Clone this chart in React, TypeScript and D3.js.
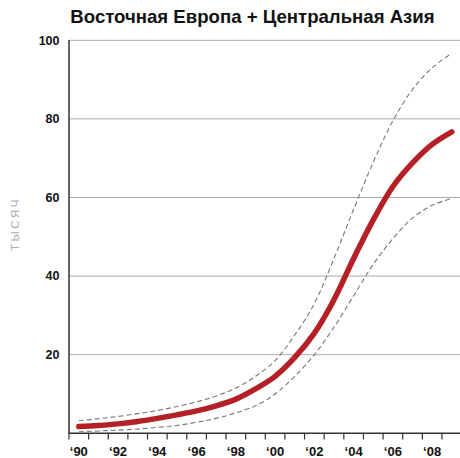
import React from "react";
import * as d3 from "d3";

const years = [1990,1991,1992,1993,1994,1995,1996,1997,1998,1999,2000,2001,2002,2003,2004,2005,2006,2007,2008,2009];
const central = [1.7,2.0,2.4,3.0,3.8,4.7,5.7,7.0,8.7,11.3,14.5,19.3,25.5,34,44.5,54.3,62.8,68.8,73.5,76.7];
const upper = [3.2,3.7,4.3,5.0,5.8,6.8,8.0,9.5,11.5,14.5,18.5,25,33,44.5,57,69,79.5,87.5,93,96.7];
const lower = [0.4,0.6,0.8,1.1,1.5,2.0,2.8,3.8,5.2,7.0,10,14.5,20,27,35,43,49.5,54.8,58,59.8];
const yTicks = [20, 40, 60, 80, 100];
const xLabelYears = [1990,1992,1994,1996,1998,2000,2002,2004,2006,2008];
const tickYears = d3.range(1990, 2010);

const title = "Восточная Европа + Центральная Азия";
const yLabel = "ТЫСЯЧ";

export default function App() {
  const W = 460, H = 458;
  const x = d3.scaleLinear().domain([1990, 2010]).range([69, 461.6]);
  const y = d3.scaleLinear().domain([0, 100]).range([433.3, 40.3]);
  const line = d3
    .line<number>()
    .x((_, i) => x(years[i] + 0.5))
    .y((d) => y(d))
    .curve(d3.curveCatmullRom.alpha(0.5));
  const font = "'Liberation Sans', Arial, Helvetica, sans-serif";
  return (
    <svg width={W} height={H} style={{ position: "absolute", left: 0, top: 0 }} fontFamily={font}>
      <rect width={W} height={H} fill="#fff" />
      <text x={252.5} y={22.5} textAnchor="middle" fontWeight="bold" fontSize={18.6} fill="#111">
        {title}
      </text>
      {yTicks.map((t) => (
        <g key={t}>
          <line x1={69} x2={460} y1={y(t)} y2={y(t)} stroke="#aaa" strokeWidth={1} />
          <text x={59.5} y={y(t)} dy="0.35em" textAnchor="end" fontWeight="bold" fontSize={12.5} fill="#111">
            {t}
          </text>
        </g>
      ))}
      <text
        transform={`translate(18.5,${224}) rotate(-90)`}
        textAnchor="middle"
        fontSize={11.5}
        fill="#aaa"
        letterSpacing={2.5}
      >
        {yLabel}
      </text>
      <path d={line(upper) || ""} fill="none" stroke="#777" strokeWidth={1.1} strokeDasharray="5,3" />
      <path d={line(lower) || ""} fill="none" stroke="#777" strokeWidth={1.1} strokeDasharray="5,3" />
      <path d={line(central) || ""} fill="none" stroke="#b52026" strokeWidth={5.5} strokeLinecap="round" />
      <line x1={69} x2={69} y1={40} y2={434} stroke="#333" strokeWidth={1.5} />
      <line x1={68.3} x2={460} y1={433.3} y2={433.3} stroke="#333" strokeWidth={1.5} />
      {tickYears.map((yr) => (
        <line key={yr} x1={x(yr)} x2={x(yr)} y1={433.3} y2={439.5} stroke="#333" strokeWidth={1.2} />
      ))}
      {xLabelYears.map((yr) => (
        <text key={yr} x={x(yr + 0.5)} y={456} textAnchor="middle" fontWeight="bold" fontSize={13} fill="#111">
          {"\u2018" + String(yr).slice(2)}
        </text>
      ))}
    </svg>
  );
}
